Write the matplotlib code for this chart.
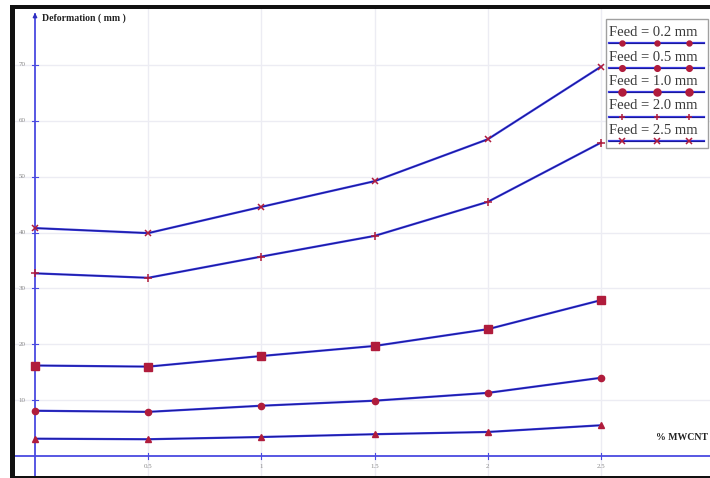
import matplotlib
matplotlib.use("Agg")
import matplotlib.pyplot as plt
from matplotlib.patches import Rectangle
from matplotlib.lines import Line2D

# % MWCNT content
mwcnt = [0.0, 0.5, 1.0, 1.5, 2.0, 2.5]

# Deformation (mm) for each feed
feed_labels = ["Feed = 0.2 mm", "Feed = 0.5 mm", "Feed = 1.0 mm", "Feed = 2.0 mm", "Feed = 2.5 mm"]
feed_02 = [3.1, 3.0, 3.4, 3.9, 4.3, 5.5]
feed_05 = [8.1, 7.9, 9.0, 9.9, 11.3, 14.0]
feed_10 = [16.2, 16.0, 17.9, 19.7, 22.7, 27.9]
feed_20 = [32.7, 31.9, 35.7, 39.4, 45.5, 56.1]
feed_25 = [40.8, 39.9, 44.6, 49.2, 56.7, 69.7]

y_ticks = [10, 20, 30, 40, 50, 60, 70]
x_ticks = [0.5, 1.0, 1.5, 2.0, 2.5]
x_tick_labels = ["0.5", "1", "1.5", "2", "2.5"]

W, H = 710, 478
fig = plt.figure(figsize=(W / 100, H / 100), dpi=100)
ax = fig.add_axes([0, 0, 1, 1])

# pixel layout of the plotting area
x0_px, x_per_unit = 35, 226.4
y0_px, y_per_unit = 456, 5.586
ax.set_xlim(-x0_px / x_per_unit, (W - x0_px) / x_per_unit)
ax.set_ylim(-(H - y0_px) / y_per_unit, y0_px / y_per_unit)
for s in ax.spines.values():
    s.set_visible(False)
ax.set_xticks([])
ax.set_yticks([])

serif = ["Liberation Serif", "DejaVu Serif"]
grid_c = "#ececf3"
axis_c = "#4a4ae0"

# grid
xmin, xmax = ax.get_xlim()
ymin, ymax = ax.get_ylim()
for yv in y_ticks:
    ax.plot([xmin + 15 / x_per_unit, xmax], [yv, yv], color=grid_c, lw=1, zorder=1)
    ax.text(-13 / x_per_unit, yv, str(yv), fontsize=5, color="#8a8a8a",
            ha="center", va="center", family=serif, zorder=2)
    ax.plot([-3 / x_per_unit, 3 / x_per_unit], [yv, yv], color=axis_c, lw=0.8, zorder=3)
for xv, lab in zip(x_ticks, x_tick_labels):
    ax.plot([xv, xv], [ymin, ymax - 8 / y_per_unit], color=grid_c, lw=1, zorder=1)
    ax.text(xv, -11 / y_per_unit, lab, fontsize=5, color="#8a8a8a",
            ha="center", va="center", family=serif, zorder=2)
    ax.plot([xv, xv], [-3 / y_per_unit, 3 / y_per_unit], color=axis_c, lw=0.8, zorder=3)

# axes lines
ax.plot([xmin + 15 / x_per_unit, xmax], [0, 0], color=axis_c, lw=1.3, zorder=3)
ax.plot([0, 0], [ymin + 2 / y_per_unit, ymax - 14 / y_per_unit], color=axis_c, lw=1.3, zorder=3)
ax.annotate("", xy=(0, ymax - 10 / y_per_unit), xytext=(0, ymax - 20 / y_per_unit),
            arrowprops=dict(arrowstyle="-|>", color="#3030c0", lw=1.0,
                            mutation_scale=6), zorder=4)

ax.text(7 / x_per_unit, ymax - 18 / y_per_unit, "Deformation ( mm )", fontsize=7,
        fontweight="bold", family=serif, color="#222222", ha="left", va="center")
ax.text(xmax - 2 / x_per_unit, 19 / y_per_unit, "% MWCNT", fontsize=7,
        fontweight="bold", family=serif, color="#222222", ha="right", va="center")

# data series
line_c = "#3a3ae0"
core_c = "#14148c"
mark_c = "#b01c3c"
series = [
    (feed_02, "^", 4.5),
    (feed_05, "o", 4.5),
    (feed_10, "s", 5.2),
    (feed_20, "+", 6),
    (feed_25, "x", 5),
]
for vals, m, ms in series:
    ax.plot(mwcnt, vals, color=line_c, lw=1.6, zorder=5)
    ax.plot(mwcnt, vals, color=core_c, lw=0.6, zorder=5)
    if m in ("+", "x"):
        ax.plot(mwcnt, vals, ls="none", marker=m, ms=ms, mec=mark_c, mew=1.1, zorder=6)
    else:
        ax.plot(mwcnt, vals, ls="none", marker=m, ms=ms, mfc=mark_c, mec=mark_c, zorder=6)

# legend box (figure pixel coordinates)
def fx(px):
    return px / W

def fy(py):
    return 1 - py / H

fig.patches.append(Rectangle((fx(606), fy(148)), fx(708) - fx(606), fy(19) - fy(148),
                             transform=fig.transFigure, facecolor="white",
                             edgecolor="#a0a0a0", lw=1.0, zorder=10))
leg_markers = ["o", "o", "o", "+", "x"]
leg_ms = [3.5, 4, 5, 5, 4]
for i, (lab, lm, lms) in enumerate(zip(feed_labels, leg_markers, leg_ms)):
    ty = 33 + 24.3 * i
    ly = 43 + 24.5 * i
    fig.text(fx(609), fy(ty), lab, fontsize=10.5, family=serif, color="#3a3a3a",
             ha="left", va="center", zorder=11)
    fig.add_artist(Line2D([fx(609), fx(704)], [fy(ly), fy(ly)], transform=fig.transFigure,
                          color=line_c, lw=1.6, zorder=11))
    fig.add_artist(Line2D([fx(609), fx(704)], [fy(ly), fy(ly)], transform=fig.transFigure,
                          color=core_c, lw=0.6, zorder=11))
    fig.add_artist(Line2D([fx(622), fx(657), fx(689)], [fy(ly)] * 3, transform=fig.transFigure,
                          ls="none", marker=lm, ms=lms, mfc=mark_c, mec=mark_c, mew=1.1,
                          zorder=12))

# black frame
frame_c = "#111111"
fig.patches.append(Rectangle((fx(10), fy(478)), fx(5), 1, transform=fig.transFigure,
                             facecolor=frame_c, edgecolor="none", zorder=20))
fig.patches.append(Rectangle((fx(10), fy(8.5)), 1, fy(5) - fy(8.5), transform=fig.transFigure,
                             facecolor=frame_c, edgecolor="none", zorder=20))
fig.patches.append(Rectangle((fx(10), 0), 1, fy(476), transform=fig.transFigure,
                             facecolor=frame_c, edgecolor="none", zorder=20))
fig.patches.append(Rectangle((0, 0), fx(10), 1, transform=fig.transFigure,
                             facecolor="white", edgecolor="none", zorder=21))
fig.patches.append(Rectangle((0, fy(5)), 1, 1 - fy(5), transform=fig.transFigure,
                             facecolor="white", edgecolor="none", zorder=21))

fig.savefig("out.png", dpi=100)
